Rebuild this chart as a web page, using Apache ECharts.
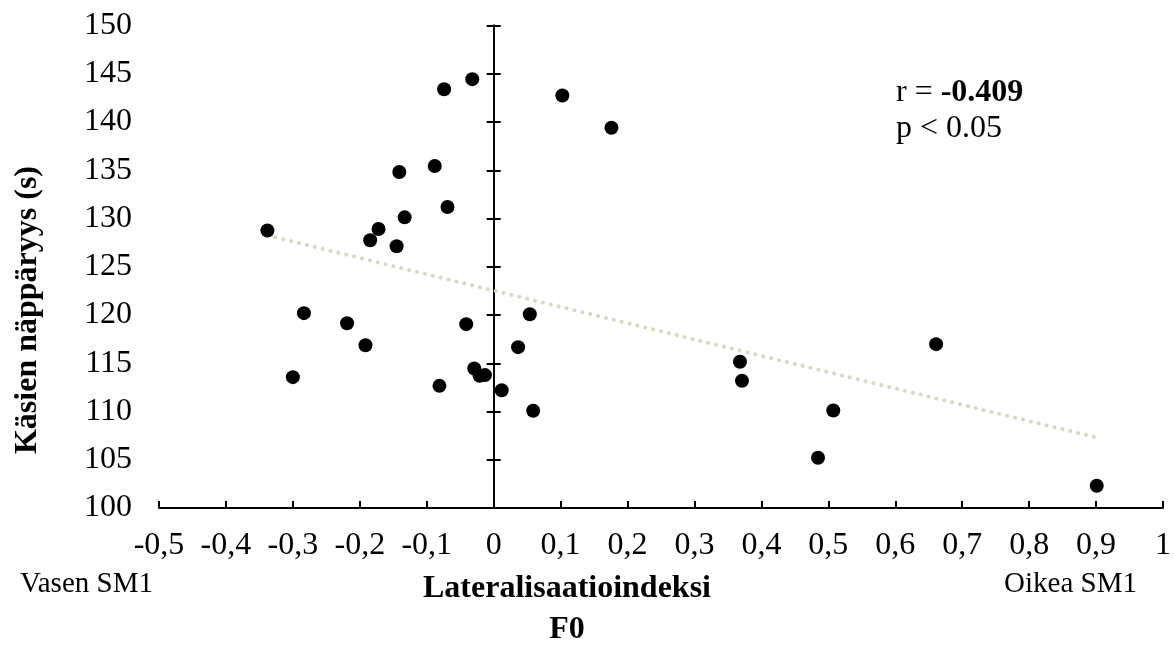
<!DOCTYPE html>
<html>
<head>
<meta charset="utf-8">
<script src="https://cdn.jsdelivr.net/npm/echarts@6/dist/echarts.min.js"></script>
<style>
  html, body { margin: 0; padding: 0; background: #fff; }
  #chart { width: 1174px; height: 648px; }
</style>
</head>
<body>
<div id="chart"></div>
<script>
// lateralisaatioindeksi (F0) vs. käsien näppäryys (s)
const lateralIndex = [
  -0.338, -0.300, -0.2835, -0.219, -0.1915, -0.1845, -0.172, -0.145,
  -0.133, -0.141, -0.088, -0.069, -0.074, -0.032, -0.041, -0.081,
  -0.029, -0.021, -0.013, 0.012, 0.0365, 0.054, 0.059, 0.1026,
  0.176, 0.368, 0.371, 0.4846, 0.5074, 0.661, 0.901
];
const dexterity = [
  128.75, 113.56, 120.19, 119.15, 116.87, 127.74, 128.91, 127.12,
  130.12, 134.82, 135.44, 131.19, 143.4, 144.44, 119.05, 112.66,
  114.46, 113.7, 113.77, 112.2, 116.67, 120.08, 110.07, 142.75,
  139.41, 115.15, 113.18, 105.2, 110.11, 116.98, 102.31
];
// trendline end points
const trendX = [-0.338, 0.901];
const trendY = [128.25, 107.3];

const xTicks = { min: -0.5, max: 1, step: 0.1 };
const yTicks = { min: 100, max: 150, step: 5 };

const serif = "'Liberation Serif', 'DejaVu Serif', serif";

const points = lateralIndex.map((x, i) => [x, dexterity[i]]);
const trend = trendX.map((x, i) => [x, trendY[i]]);

function fmtX(v) {
  if (Math.abs(v) < 1e-9) return "0";
  if (Math.abs(v - 1) < 1e-9) return "1";
  return v.toFixed(1).replace(".", ",");
}

const yBase = {
  type: "value",
  min: yTicks.min,
  max: yTicks.max,
  interval: yTicks.step,
  splitLine: { show: false },
};

const option = {
  animation: false,
  grid: { left: 159, right: 9, top: 25.5, bottom: 140, containLabel: false },
  xAxis: {
    type: "value",
    min: xTicks.min,
    max: xTicks.max,
    interval: xTicks.step,
    axisLine: { onZero: false, lineStyle: { color: "#000", width: 2 } },
    axisTick: { inside: true, length: 7, lineStyle: { color: "#000", width: 2 } },
    axisLabel: {
      formatter: fmtX,
      margin: 22,
      color: "#000",
      fontFamily: serif,
      fontSize: 32,
    },
    splitLine: { show: false },
  },
  yAxis: [
    {
      ...yBase,
      position: "left",
      axisLine: { show: false, onZero: false },
      axisTick: { show: false },
      axisLabel: {
        margin: 27,
        color: "#000",
        fontFamily: serif,
        fontSize: 32,
      },
    },
    {
      ...yBase,
      position: "left",
      axisLine: { show: true, onZero: true, onZeroAxisIndex: 0, lineStyle: { color: "#000", width: 2 } },
      axisTick: { show: true, length: 7, lineStyle: { color: "#000", width: 2 } },
      axisLabel: { show: false },
    },
    {
      ...yBase,
      position: "right",
      axisLine: { show: true, onZero: true, onZeroAxisIndex: 0, lineStyle: { color: "#000", width: 2 } },
      axisTick: { show: true, length: 7, lineStyle: { color: "#000", width: 2 } },
      axisLabel: { show: false },
    },
  ],
  series: [
    {
      type: "line",
      data: trend,
      showSymbol: false,
      symbol: "none",
      lineStyle: { color: "#dcd7c2", width: 4, type: [0.1, 8], cap: "round" },
      z: 1,
    },
    {
      type: "scatter",
      data: points,
      symbol: "circle",
      symbolSize: 14,
      itemStyle: { color: "#000", opacity: 1 },
      z: 3,
    },
  ],
  graphic: [
    {
      type: "text",
      x: 896,
      y: 93,
      style: {
        text: "{n|r = }{b|-0.409}",
        verticalAlign: "middle",
        rich: {
          n: { fontFamily: serif, fontSize: 32, fill: "#000", color: "#000" },
          b: { fontFamily: serif, fontSize: 32, fontWeight: "bold", fill: "#000", color: "#000" },
        },
      },
    },
    {
      type: "text",
      x: 896,
      y: 129,
      style: { text: "p < 0.05", font: "32px " + serif, fill: "#000", verticalAlign: "middle" },
    },
    {
      type: "text",
      x: 20,
      y: 584,
      style: { text: "Vasen SM1", font: "29px " + serif, fill: "#000", verticalAlign: "middle" },
    },
    {
      type: "text",
      x: 1137,
      y: 584,
      style: { text: "Oikea SM1", font: "29px " + serif, fill: "#000", align: "right", verticalAlign: "middle" },
    },
    {
      type: "text",
      x: 567,
      y: 589,
      style: { text: "Lateralisaatioindeksi", font: "bold 32px " + serif, fill: "#000", align: "center", verticalAlign: "middle" },
    },
    {
      type: "text",
      x: 567,
      y: 630,
      style: { text: "F0", font: "bold 32px " + serif, fill: "#000", align: "center", verticalAlign: "middle" },
    },
    {
      type: "text",
      x: 28,
      y: 310,
      rotation: Math.PI / 2,
      style: { text: "Käsien näppäryys (s)", font: "bold 32px " + serif, fill: "#000", align: "center", verticalAlign: "middle" },
    },
  ],
};

const chart = echarts.init(document.getElementById("chart"), null, { renderer: "canvas" });
chart.setOption(option);
</script>
</body>
</html>
